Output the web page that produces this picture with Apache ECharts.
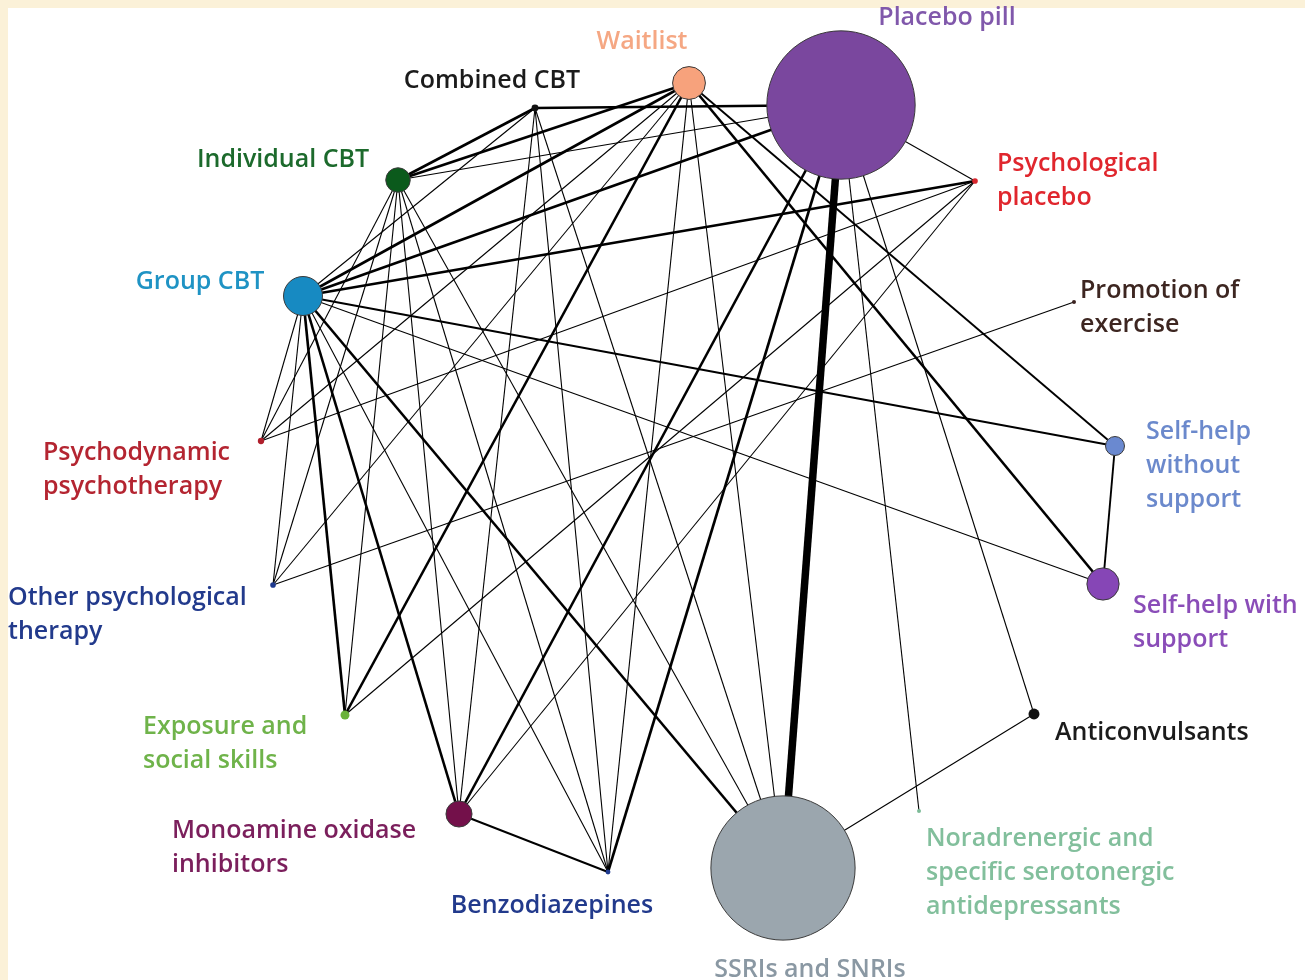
<!DOCTYPE html>
<html>
<head>
<meta charset="utf-8">
<script src="https://cdn.jsdelivr.net/npm/echarts/dist/echarts.min.js"></script>
<style>
  html, body { margin: 0; padding: 0; background: #fbf1d8; }
  #paper { position: absolute; left: 8px; top: 8px; width: 1297px; height: 972px; background: #ffffff; }
  #chart { position: absolute; left: 0; top: 0; width: 1305px; height: 980px; }
</style>
</head>
<body>
<div id="paper"></div>
<div id="chart"></div>
<script>
// Treatments in the network (display text uses line breaks)
const treatments = [
  'Waitlist', 'Placebo pill', 'Combined CBT', 'Individual CBT', 'Group CBT',
  'Psychological\nplacebo', 'Promotion of\nexercise', 'Psychodynamic\npsychotherapy',
  'Other psychological\ntherapy', 'Self-help\nwithout\nsupport', 'Self-help with\nsupport',
  'Exposure and\nsocial skills', 'Anticonvulsants', 'Monoamine oxidase\ninhibitors',
  'Benzodiazepines', 'SSRIs and SNRIs',
  'Noradrenergic and\nspecific serotonergic\nantidepressants'
];

// Network layout coordinates (layout units, y grows downward)
const layoutX = [689, 841, 535, 398, 303, 975, 1074, 261, 273, 1115, 1103, 345, 1034, 459, 608, 783, 919];
const layoutY = [83, 105, 108, 180, 296, 181, 302, 441, 585, 446, 584, 715, 714, 814, 872, 868, 811];

// Participants randomised to each treatment (node area)
const participants = [270, 5500, 12, 150, 380, 8, 4, 10, 8, 90, 260, 20, 30, 170, 6, 5200, 4];

// Direct comparisons: [treatment A, treatment B, number of trials]
const comparisons = [
  [0, 3, 3], [0, 4, 3], [0, 11, 3], [0, 10, 3], [0, 9, 2], [0, 7, 1], [0, 8, 1], [0, 14, 1], [0, 15, 1],
  [1, 15, 9], [1, 2, 3], [1, 4, 3], [1, 13, 3], [1, 14, 3], [1, 5, 1], [1, 12, 1], [1, 16, 1], [1, 3, 1],
  [2, 3, 3], [2, 4, 1], [2, 13, 1], [2, 14, 1], [2, 15, 1],
  [3, 7, 1], [3, 8, 1], [3, 11, 1], [3, 13, 1], [3, 14, 1], [3, 15, 1],
  [4, 5, 3], [4, 9, 2], [4, 11, 3], [4, 13, 3], [4, 15, 3], [4, 7, 1], [4, 8, 1], [4, 14, 1], [4, 10, 1],
  [5, 7, 1], [5, 13, 1], [5, 11, 1],
  [6, 8, 1],
  [9, 10, 2],
  [12, 15, 1],
  [13, 14, 2]
];

// Drawing styles
const nodeColors = ['#f7a27c', '#7a479e', '#111111', '#0b5a1c', '#178ac2', '#d8262d', '#3b2320',
  '#b01f2c', '#1f3a8f', '#6a89d0', '#8646b6', '#6ab23a', '#111111', '#73104a', '#1f3a8f', '#9ba6ae', '#7dbb98'];
const labelColors = ['#f5a783', '#8058ab', '#1b1b1b', '#1c6a2c', '#1f93c4', '#e0262d', '#3d2621',
  '#b42531', '#223a8c', '#6b89cc', '#8a4db8', '#6fb34a', '#1b1b1b', '#7b1f5c', '#223a8c', '#8a98a3', '#82bf9c'];
// [dx, dy, align] of each label relative to its node centre
const labelPlace = [
  [-47, -41, 'center'], [106, -87, 'center'], [-43, -27, 'center'], [-115, -20, 'center'], [-103, -14, 'center'],
  [22, 0, 'left'], [6, 6, 'left'], [-218, 29, 'left'], [-265, 30, 'left'], [31, 20, 'left'], [30, 39, 'left'],
  [-202, 29, 'left'], [21, 19, 'left'], [-287, 34, 'left'], [-56, 34, 'center'], [27, 102, 'center'], [7, 62, 'left']
];
const edgeWidth = n => (n >= 9 ? 7.5 : n >= 3 ? 2.6 : n === 2 ? 1.9 : 1.1);

const nodes = treatments.map((t, i) => ({
  name: t,
  value: [layoutX[i], layoutY[i]],
  symbolSize: Math.max(4, 2 * Math.sqrt(participants[i])),
  itemStyle: { color: nodeColors[i], borderColor: '#3a3a3a', borderWidth: participants[i] > 50 ? 1 : 0 },
  label: {
    show: true,
    position: 'inside',
    offset: [labelPlace[i][0], labelPlace[i][1]],
    align: labelPlace[i][2],
    verticalAlign: 'middle',
    color: labelColors[i],
    fontFamily: 'Open Sans',
    fontWeight: 600,
    fontSize: 25,
    lineHeight: 34
  }
}));

const links = comparisons.map(c => ({
  source: treatments[c[0]],
  target: treatments[c[1]],
  lineStyle: { width: edgeWidth(c[2]) }
}));

const chart = echarts.init(document.getElementById('chart'), null, { renderer: 'canvas' });
chart.setOption({
  backgroundColor: 'transparent',
  animation: false,
  grid: { left: 0, right: 0, top: 0, bottom: 0 },
  xAxis: { type: 'value', min: 0, max: 1305, show: false },
  yAxis: { type: 'value', min: 0, max: 980, inverse: true, show: false },
  series: [{
    type: 'graph',
    coordinateSystem: 'cartesian2d',
    data: nodes,
    links: links,
    symbol: 'circle',
    edgeSymbol: ['none', 'none'],
    lineStyle: { color: '#000000', opacity: 1, curveness: 0 },
    emphasis: { disabled: true },
    silent: true
  }]
});
</script>
</body>
</html>
